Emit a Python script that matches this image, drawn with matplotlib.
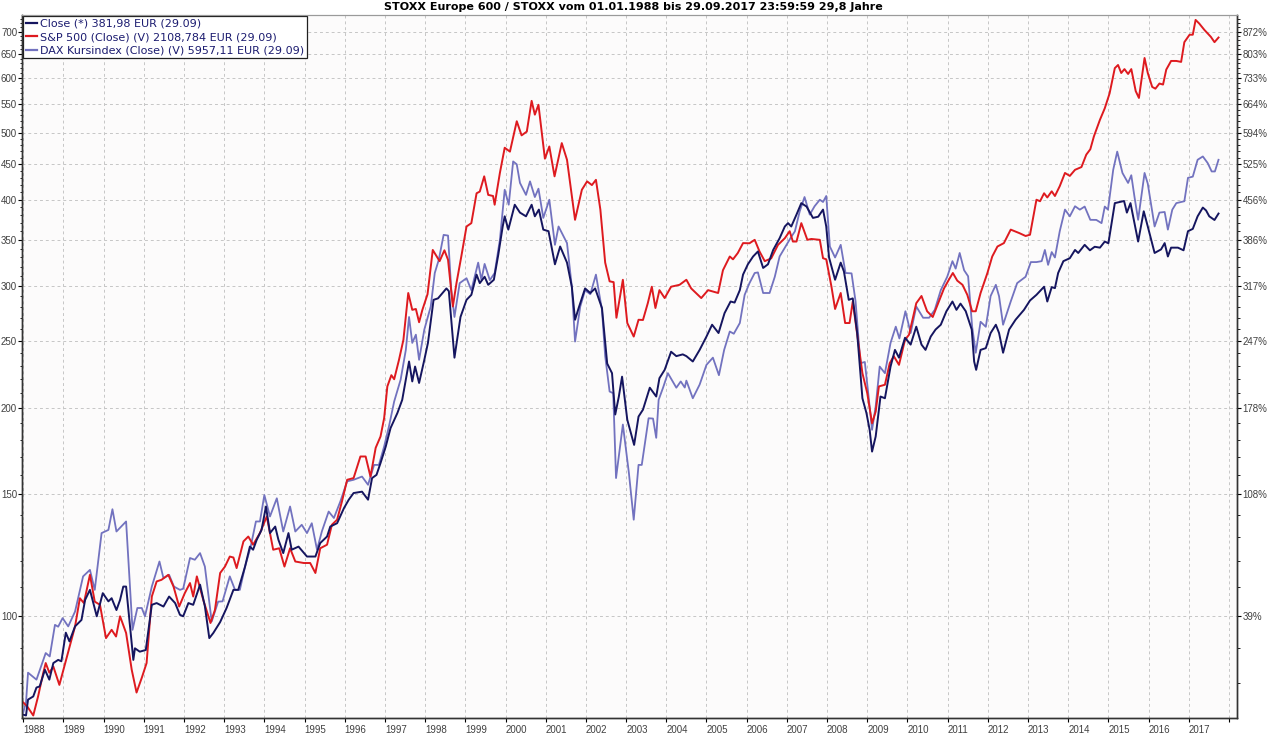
import numpy as np
import matplotlib
matplotlib.use('Agg')
import matplotlib.pyplot as plt
from matplotlib.ticker import FixedLocator, FixedFormatter, NullFormatter
from matplotlib.lines import Line2D

# ---- data (fractional years, index values) ----
close_t = [1988.0, 1988.07, 1988.12, 1988.25, 1988.33, 1988.41, 1988.54, 1988.65, 1988.75, 1988.87, 1988.95,
           1989.06, 1989.15, 1989.29, 1989.45, 1989.54, 1989.66, 1989.83, 1989.98, 1990.12, 1990.2, 1990.32,
           1990.41, 1990.49, 1990.56, 1990.74, 1990.78, 1990.9, 1991.05, 1991.2, 1991.32, 1991.49, 1991.63,
           1991.78, 1991.9, 1991.98, 1992.11, 1992.23, 1992.4, 1992.52, 1992.63, 1992.73, 1992.9,
           1993.06, 1993.23, 1993.35, 1993.52, 1993.64, 1993.72, 1993.81, 1993.93, 1994.04, 1994.14, 1994.27,
           1994.35, 1994.47, 1994.6, 1994.68, 1994.85, 1995.06, 1995.27, 1995.39, 1995.56, 1995.64, 1995.81,
           1995.98, 1996.1, 1996.22, 1996.43, 1996.58, 1996.68, 1996.79, 1996.89, 1997.02, 1997.14, 1997.31,
           1997.43, 1997.52, 1997.6, 1997.68, 1997.75, 1997.85, 1997.98,
           1998.07, 1998.21, 1998.32, 1998.53, 1998.59, 1998.65, 1998.73, 1998.88, 1999.03, 1999.15, 1999.28,
           1999.36, 1999.48, 1999.57, 1999.71, 1999.82, 1999.93, 1999.98, 2000.07, 2000.23, 2000.36, 2000.51,
           2000.65, 2000.73, 2000.83, 2000.94, 2001.07, 2001.23, 2001.36, 2001.53, 2001.65, 2001.73, 2001.82,
           2001.98, 2002.11, 2002.23, 2002.4, 2002.53, 2002.65, 2002.73, 2002.82, 2002.9, 2003.03,
           2003.2, 2003.31, 2003.42, 2003.59, 2003.75, 2003.83, 2003.96, 2004.12, 2004.25, 2004.41, 2004.5,
           2004.66, 2004.83, 2005.0, 2005.14, 2005.3, 2005.45, 2005.6, 2005.7, 2005.83, 2005.91, 2006.03,
           2006.16, 2006.28, 2006.41, 2006.53, 2006.66, 2006.82, 2006.95, 2007.03, 2007.11, 2007.24, 2007.36,
           2007.49, 2007.65, 2007.78, 2007.9, 2007.98,
           2008.05, 2008.2, 2008.34, 2008.42, 2008.54, 2008.64, 2008.75, 2008.88, 2008.98, 2009.06, 2009.12,
           2009.21, 2009.33, 2009.44, 2009.58, 2009.69, 2009.79, 2009.94, 2010.08, 2010.22, 2010.35, 2010.45,
           2010.58, 2010.7, 2010.83, 2010.97, 2011.12, 2011.22, 2011.32, 2011.45, 2011.6, 2011.66, 2011.71,
           2011.82, 2011.95, 2012.07, 2012.2, 2012.28, 2012.38, 2012.53, 2012.69, 2012.9, 2013.05,
           2013.21, 2013.4, 2013.48, 2013.59, 2013.67, 2013.75, 2013.88, 2014.04, 2014.17, 2014.25, 2014.41,
           2014.54, 2014.66, 2014.79, 2014.91, 2015.0, 2015.16, 2015.39, 2015.46, 2015.55, 2015.65, 2015.74,
           2015.88, 2015.98, 2016.15, 2016.31, 2016.4, 2016.48, 2016.56, 2016.73, 2016.87, 2016.98, 2017.1,
           2017.22, 2017.35, 2017.43, 2017.51, 2017.64, 2017.74]
close_v = [72.0, 71.8, 75.7, 76.5, 78.8, 79.1, 83.6, 80.9, 85.5, 86.4, 86.0,
           94.6, 91.9, 96.6, 98.7, 105.5, 109.1, 99.9, 107.9, 105.0, 106.1, 102.0,
           105.5, 110.3, 110.3, 86.4, 89.8, 88.8, 89.3, 103.8, 104.4, 103.2, 106.7,
           104.4, 100.4, 99.9, 104.4, 103.8, 111.0, 103.3, 92.9, 94.5, 98.0,
           102.7, 109.1, 109.1, 117.9, 126.0, 124.7, 128.9, 133.2, 144.0, 131.8, 134.7,
           128.9, 123.3, 131.8, 124.7, 126.0, 121.9, 121.9, 127.5, 130.3, 134.7, 136.2,
           143.2, 147.3, 150.6, 151.3, 147.3, 158.3, 160.0, 166.4, 175.8, 187.0, 196.6,
           205.4, 219.6, 233.4, 218.4, 229.5, 217.3, 234.7,
           248.3, 286.6, 288.0, 297.7, 295.0, 268.2, 236.4, 270.7, 286.6, 291.4, 311.7,
           303.0, 309.5, 301.3, 306.4, 333.0, 365.9, 378.5, 362.1, 393.4, 383.2, 378.5,
           393.4, 378.5, 387.1, 362.1, 360.2, 322.6, 342.3, 324.4, 299.4, 268.2, 278.9,
           297.7, 293.2, 297.7, 278.9, 231.8, 224.5, 195.6, 207.7, 221.9, 192.2,
           176.8, 194.3, 198.8, 213.9, 207.7, 220.8, 227.0, 241.1, 237.6, 239.0, 237.6,
           233.4, 242.6, 253.6, 263.8, 256.6, 274.2, 285.0, 284.0, 296.0, 311.7, 322.6,
           331.1, 336.7, 318.7, 322.6, 338.4, 351.9, 365.9, 370.0, 365.9, 380.7, 395.5,
           391.0, 376.5, 378.0, 387.1, 365.9,
           330.0, 306.4, 324.4, 315.0, 286.6, 288.0, 256.6, 206.5, 196.6, 185.9, 172.9,
           181.8, 207.7, 206.5, 229.5, 242.6, 236.4, 252.6, 246.9, 262.1, 246.9, 242.6,
           253.6, 259.6, 263.8, 275.9, 285.0, 277.2, 283.0, 276.0, 259.6, 233.4, 227.0,
           242.6, 244.0, 256.6, 263.8, 256.6, 240.3, 259.6, 268.2, 277.2, 286.0,
           291.4, 299.4, 285.0, 299.0, 298.0, 313.4, 326.0, 329.2, 338.4, 335.0, 344.2,
           338.0, 342.0, 341.0, 348.0, 346.0, 395.5, 398.3, 383.2, 395.5, 370.0, 348.0,
           384.9, 365.9, 335.0, 339.0, 346.2, 331.1, 341.0, 341.0, 338.0, 360.2, 363.0,
           378.5, 389.7, 386.0, 378.5, 373.9, 381.98]

spx_t = [1988.0, 1988.1, 1988.25, 1988.37, 1988.5, 1988.56, 1988.65, 1988.75, 1988.9, 1989.0, 1989.12,
         1989.29, 1989.41, 1989.51, 1989.66, 1989.78, 1989.91, 1990.06, 1990.2, 1990.31, 1990.41, 1990.56,
         1990.7, 1990.82, 1990.95, 1991.07, 1991.2, 1991.32, 1991.44, 1991.61, 1991.74, 1991.88, 1992.02,
         1992.15, 1992.23, 1992.32, 1992.48, 1992.66, 1992.77, 1992.9, 1993.02,
         1993.14, 1993.23, 1993.31, 1993.48, 1993.6, 1993.72, 1993.89, 1994.06, 1994.22, 1994.37, 1994.5,
         1994.64, 1994.77, 1994.98, 1995.14, 1995.27, 1995.39, 1995.56, 1995.68, 1995.81, 1995.93, 1996.06,
         1996.22, 1996.39, 1996.52, 1996.64, 1996.77, 1996.89, 1996.98, 1997.06, 1997.16, 1997.23, 1997.35,
         1997.46, 1997.58, 1997.68, 1997.77, 1997.85, 1997.93, 1998.06,
         1998.19, 1998.36, 1998.48, 1998.57, 1998.69, 1998.78, 1998.9, 1999.03, 1999.15, 1999.28, 1999.36,
         1999.47, 1999.57, 1999.69, 1999.73, 1999.86, 1999.98, 2000.11, 2000.28, 2000.4, 2000.53, 2000.65,
         2000.73, 2000.82, 2000.98, 2001.09, 2001.22, 2001.4, 2001.53, 2001.73, 2001.9, 2002.03, 2002.15,
         2002.25, 2002.36, 2002.48, 2002.59, 2002.69, 2002.76, 2002.92, 2003.03, 2003.19,
         2003.31, 2003.42, 2003.54, 2003.64, 2003.73, 2003.83, 2003.96, 2004.12, 2004.33, 2004.5, 2004.62,
         2004.87, 2005.04, 2005.29, 2005.41, 2005.58, 2005.66, 2005.78, 2005.91, 2006.07, 2006.2, 2006.32,
         2006.45, 2006.61, 2006.78, 2006.95, 2007.07, 2007.15, 2007.24, 2007.36, 2007.51, 2007.61, 2007.82,
         2007.9, 2007.98, 2008.11, 2008.2,
         2008.34, 2008.45, 2008.56, 2008.64, 2008.78, 2008.88, 2009.0, 2009.12, 2009.21, 2009.29, 2009.44,
         2009.56, 2009.66, 2009.79, 2009.94, 2010.04, 2010.22, 2010.35, 2010.49, 2010.63, 2010.78, 2010.91,
         2011.03, 2011.13, 2011.24, 2011.37, 2011.49, 2011.61, 2011.7, 2011.82, 2011.99, 2012.11, 2012.24,
         2012.4, 2012.57, 2012.78, 2012.94, 2013.05,
         2013.21, 2013.3, 2013.4, 2013.48, 2013.59, 2013.67, 2013.79, 2013.92, 2014.04, 2014.17, 2014.33,
         2014.45, 2014.55, 2014.64, 2014.79, 2014.91, 2015.03, 2015.16, 2015.24, 2015.32, 2015.4, 2015.49,
         2015.57, 2015.68, 2015.76, 2015.9, 2015.98, 2016.09, 2016.17, 2016.27, 2016.36, 2016.44, 2016.56,
         2016.69, 2016.81, 2016.89, 2017.02, 2017.1, 2017.17, 2017.26, 2017.39, 2017.55, 2017.64, 2017.74]
spx_v = [75.0, 74.0, 71.8, 76.5, 82.8, 85.5, 82.8, 84.5, 79.5, 83.6, 88.8,
         96.6, 106.1, 104.4, 114.7, 104.9, 103.8, 92.9, 95.5, 93.4, 99.9, 94.5,
         83.6, 77.5, 81.4, 85.5, 106.7, 112.2, 112.8, 114.7, 110.3, 103.2, 107.9,
         111.6, 106.7, 114.1, 105.5, 97.7, 102.0, 115.4, 117.9,
         121.9, 121.5, 117.3, 128.2, 130.3, 126.8, 131.8, 139.3, 124.7, 125.3, 117.9,
         125.3, 119.9, 119.3, 119.3, 115.4, 125.3, 126.8, 135.5, 137.8, 146.4, 157.4,
         158.3, 170.1, 170.1, 159.1, 175.1, 181.8, 193.2, 214.8, 223.0, 220.0, 234.7,
         250.9, 293.2, 277.2, 278.0, 266.0, 277.0, 292.0,
         338.4, 326.0, 338.0, 327.5, 280.3, 303.0, 331.1, 365.9, 370.0, 408.7, 411.0,
         432.4, 406.5, 405.0, 393.4, 437.3, 475.6, 469.5, 519.5, 495.6, 501.9, 556.0,
         531.0, 548.8, 458.6, 477.6, 432.4, 483.0, 456.9, 374.1, 413.5, 425.2, 420.0,
         427.4, 387.1, 324.4, 304.8, 304.0, 270.0, 306.4, 265.3, 253.6,
         268.2, 268.0, 283.4, 299.4, 278.9, 296.0, 288.3, 299.4, 301.3, 306.4, 297.7,
         288.3, 296.0, 293.2, 316.3, 331.1, 328.0, 335.0, 346.2, 346.0, 350.0, 336.7,
         326.0, 329.0, 344.2, 351.9, 360.2, 348.0, 348.0, 370.0, 350.0, 351.0, 350.0,
         329.2, 328.0, 299.4, 278.0,
         293.2, 265.3, 265.3, 285.0, 248.3, 224.5, 210.1, 190.0, 197.5, 214.8, 216.0,
         232.1, 237.6, 230.8, 250.9, 255.2, 283.4, 290.3, 275.9, 270.7, 285.0, 297.7,
         306.4, 313.4, 305.5, 301.3, 291.4, 275.9, 275.9, 293.2, 313.4, 331.1, 342.3,
         346.2, 362.1, 358.0, 354.5, 356.0,
         400.0, 398.0, 408.7, 403.0, 411.4, 405.0, 418.5, 437.3, 433.0, 441.9, 446.0,
         464.8, 473.2, 494.0, 522.0, 542.4, 570.0, 620.0, 626.5, 610.0, 618.0, 608.0,
         618.0, 574.3, 561.4, 641.3, 610.0, 582.4, 579.0, 589.0, 587.0, 617.0, 635.0,
         635.0, 633.0, 676.0, 693.0, 693.0, 728.0, 719.3, 704.0, 688.0, 676.0, 686.5]

dax_t = [1988.0, 1988.07, 1988.12, 1988.33, 1988.56, 1988.66, 1988.79, 1988.87, 1988.98, 1989.12, 1989.29,
         1989.49, 1989.66, 1989.78, 1989.95, 1990.12, 1990.22, 1990.32, 1990.56, 1990.72, 1990.84, 1990.95,
         1991.03, 1991.2, 1991.39, 1991.49, 1991.63, 1991.75, 1991.9, 1991.98, 1992.15, 1992.27, 1992.4,
         1992.52, 1992.69, 1992.85, 1992.96,
         1993.14, 1993.27, 1993.39, 1993.52, 1993.66, 1993.79, 1993.89, 1994.0, 1994.14, 1994.31, 1994.47,
         1994.64, 1994.77, 1994.93, 1995.06, 1995.18, 1995.31, 1995.43, 1995.6, 1995.73, 1995.89, 1996.06,
         1996.22, 1996.43, 1996.58, 1996.73, 1996.85, 1996.98, 1997.1, 1997.23, 1997.39, 1997.52, 1997.6,
         1997.68, 1997.77, 1997.85, 1997.98, 1998.14,
         1998.24, 1998.34, 1998.46, 1998.57, 1998.65, 1998.73, 1998.86, 1999.03, 1999.15, 1999.32, 1999.4,
         1999.48, 1999.61, 1999.73, 1999.86, 1999.98, 2000.08, 2000.19, 2000.28, 2000.36, 2000.51, 2000.61,
         2000.73, 2000.82, 2000.94, 2001.09, 2001.23, 2001.32, 2001.53, 2001.65, 2001.73, 2001.86, 2001.98,
         2002.11, 2002.25, 2002.4, 2002.48, 2002.59, 2002.68, 2002.75, 2002.92, 2003.07, 2003.19,
         2003.31, 2003.39, 2003.56, 2003.67, 2003.75, 2003.81, 2003.92, 2004.04, 2004.25, 2004.36, 2004.46,
         2004.5, 2004.66, 2004.83, 2005.0, 2005.16, 2005.31, 2005.44, 2005.58, 2005.68, 2005.83, 2005.95,
         2006.07, 2006.2, 2006.28, 2006.41, 2006.57, 2006.7, 2006.82, 2006.99, 2007.11, 2007.2, 2007.32,
         2007.44, 2007.57, 2007.69, 2007.82, 2007.9, 2007.98, 2008.07, 2008.2,
         2008.34, 2008.46, 2008.61, 2008.71, 2008.83, 2008.94, 2009.02, 2009.12, 2009.21, 2009.31, 2009.44,
         2009.58, 2009.71, 2009.8, 2009.95, 2010.08, 2010.22, 2010.39, 2010.54, 2010.68, 2010.83, 2010.99,
         2011.12, 2011.2, 2011.3, 2011.41, 2011.51, 2011.61, 2011.7, 2011.82, 2011.95, 2012.07, 2012.2,
         2012.28, 2012.38, 2012.57, 2012.73, 2012.94, 2013.07,
         2013.21, 2013.34, 2013.42, 2013.5, 2013.59, 2013.67, 2013.79, 2013.92, 2014.04, 2014.17, 2014.29,
         2014.41, 2014.55, 2014.7, 2014.83, 2014.91, 2014.99, 2015.12, 2015.22, 2015.35, 2015.49, 2015.57,
         2015.65, 2015.74, 2015.9, 2015.98, 2016.15, 2016.27, 2016.4, 2016.48, 2016.59, 2016.69, 2016.81,
         2016.89, 2016.98, 2017.1, 2017.22, 2017.35, 2017.47, 2017.57, 2017.65, 2017.74]
dax_v = [72.5, 75.0, 82.8, 80.9, 88.4, 87.4, 97.1, 96.5, 99.3, 96.6, 101.5,
         114.1, 116.6, 109.1, 131.8, 133.2, 142.7, 132.5, 137.0, 95.5, 102.7, 102.7,
         99.9, 110.3, 119.9, 113.4, 114.7, 110.3, 109.1, 109.5, 121.3, 120.6, 123.3,
         117.9, 98.2, 104.9, 105.0,
         114.1, 109.1, 109.1, 117.9, 126.0, 137.0, 137.0, 149.6, 139.3, 148.0, 132.5,
         144.0, 132.5, 135.5, 131.8, 136.2, 124.7, 132.5, 141.6, 138.6, 146.4, 156.6,
         157.4, 159.1, 154.8, 165.4, 165.4, 175.8, 188.0, 204.3, 219.6, 242.6, 270.7,
         248.3, 255.2, 234.7, 259.6, 280.3,
         313.4, 327.5, 355.8, 355.0, 296.0, 270.7, 303.0, 308.0, 296.0, 324.4, 306.4,
         323.0, 306.0, 313.4, 350.0, 413.5, 393.4, 454.4, 450.0, 423.0, 406.5, 425.2,
         403.6, 415.0, 376.5, 400.0, 344.2, 365.9, 346.2, 299.4, 249.4, 280.3, 296.0,
         292.0, 311.7, 277.2, 237.6, 211.2, 210.0, 158.3, 189.2, 161.0, 137.8,
         165.4, 165.4, 193.2, 193.0, 181.0, 205.4, 213.9, 224.5, 213.9, 218.4, 214.0,
         219.0, 206.5, 216.1, 230.8, 236.4, 223.0, 242.6, 257.9, 256.0, 265.3, 291.4,
         303.0, 313.4, 314.0, 293.2, 293.2, 309.5, 331.1, 344.2, 353.5, 360.0, 384.9,
         403.6, 380.7, 391.4, 400.0, 397.0, 405.0, 342.3, 330.0,
         344.2, 313.4, 313.0, 285.0, 232.1, 233.0, 211.2, 185.9, 201.0, 229.5, 224.5,
         248.3, 262.1, 252.0, 275.9, 256.6, 280.3, 270.0, 270.0, 277.2, 296.0, 309.5,
         326.0, 318.0, 335.0, 316.3, 310.0, 262.1, 240.3, 266.4, 262.0, 290.3, 301.3,
         290.0, 263.8, 285.0, 303.0, 309.5, 325.0,
         325.0, 326.0, 338.4, 322.0, 336.0, 330.0, 360.2, 387.1, 378.5, 391.4, 387.0,
         391.0, 374.1, 374.0, 370.0, 391.0, 387.0, 441.9, 469.5, 437.3, 423.0, 434.0,
         403.6, 374.1, 437.3, 422.0, 365.9, 383.2, 384.0, 362.1, 387.0, 395.5, 397.0,
         398.0, 430.2, 432.0, 456.9, 462.0, 452.0, 439.5, 439.5, 456.9]

ytick_vals = [100, 150, 200, 250, 300, 350, 400, 450, 500, 550, 600, 650, 700]
ytick_pct = ['39%', '108%', '178%', '247%', '317%', '386%', '456%', '525%', '594%', '664%', '733%', '803%', '872%']
years = list(range(1988, 2019))

title = 'STOXX Europe 600 / STOXX vom 01.01.1988 bis 29.09.2017 23:59:59 29,8 Jahre'
labels = ['Close (*) 381,98 EUR (29.09)',
          'S&P 500 (Close) (V) 2108,784 EUR (29.09)',
          'DAX Kursindex (Close) (V) 5957,11 EUR (29.09)']
colors = ['#15155f', '#de1a1f', '#7272bf']
tick_font = 'Liberation Sans'

# ---- figure ----
W, H = 1267, 736
fig = plt.figure(figsize=(W / 100, H / 100), dpi=100)
fig.patch.set_facecolor('white')
ax = fig.add_axes([22 / W, 18 / H, 1215 / W, 703 / H])
ax.set_facecolor('#fcfbfb')

ax.plot(dax_t, dax_v, color=colors[2], lw=1.3, zorder=3)
ax.plot(spx_t, spx_v, color=colors[1], lw=1.4, zorder=4)
ax.plot(close_t, close_v, color=colors[0], lw=1.4, zorder=5)

ax.set_yscale('log')
ylim = (71.2, 740)
ax.set_ylim(*ylim)
ax.set_xlim(1987.97, 2018.2)

minor_y = [v for v in range(80, 740, 10) if v not in ytick_vals]
ax.yaxis.set_major_locator(FixedLocator(ytick_vals))
ax.yaxis.set_major_formatter(FixedFormatter([str(v) for v in ytick_vals]))
ax.yaxis.set_minor_locator(FixedLocator(minor_y))
ax.yaxis.set_minor_formatter(NullFormatter())
ax.xaxis.set_major_locator(FixedLocator(years))
ax.xaxis.set_major_formatter(FixedFormatter([str(y) if y < 2018 else '' for y in years]))

ax.grid(True, which='major', color='#c6c6c6', lw=0.7, linestyle=(0, (3, 3)))
ax.tick_params(axis='y', which='major', length=3, width=0.8, labelsize=7, pad=0.5, labelcolor='#404040')
ax.tick_params(axis='y', which='minor', length=1.8, width=0.6)
ax.tick_params(axis='x', which='major', length=3, width=0.8, labelsize=7, pad=2, labelcolor='#404040')

ax2 = ax.twinx()
ax2.set_yscale('log')
ax2.set_ylim(*ylim)
ax2.yaxis.set_major_locator(FixedLocator(ytick_vals))
ax2.yaxis.set_major_formatter(FixedFormatter(ytick_pct))
ax2.yaxis.set_minor_locator(FixedLocator(minor_y))
ax2.yaxis.set_minor_formatter(NullFormatter())
ax2.tick_params(axis='y', which='major', length=3, width=0.8, labelsize=7, pad=1, labelcolor='#404040')
ax2.tick_params(axis='y', which='minor', length=1.8, width=0.6)

for lbl in ax.get_xticklabels():
    lbl.set_horizontalalignment('left')
    lbl.set_fontfamily(tick_font)
for lbl in ax.get_yticklabels() + ax2.get_yticklabels():
    lbl.set_fontfamily(tick_font)

for a in (ax, ax2):
    for s in ('left', 'bottom', 'right'):
        a.spines[s].set_color('#333333')
        a.spines[s].set_linewidth(1.0)
    a.spines['top'].set_color('#9a9a9a')
    a.spines['top'].set_linewidth(0.8)

handles = [Line2D([], [], color=c, lw=1.6) for c in colors]
leg = ax.legend(handles, labels, loc='upper left', bbox_to_anchor=(0, 1), borderaxespad=0.1,
                fontsize=8, handlelength=1.0, handletextpad=0.3, labelspacing=0.3,
                borderpad=0.25, fancybox=False, framealpha=1, labelcolor='#1c1c70')
leg.get_frame().set_edgecolor('#202020')
leg.get_frame().set_linewidth(0.9)
leg.set_zorder(10)

fig.text(0.5, 1 - 7 / H, title, ha='center', va='center', fontsize=8, fontweight='bold')

fig.savefig('out.png', dpi=100)
